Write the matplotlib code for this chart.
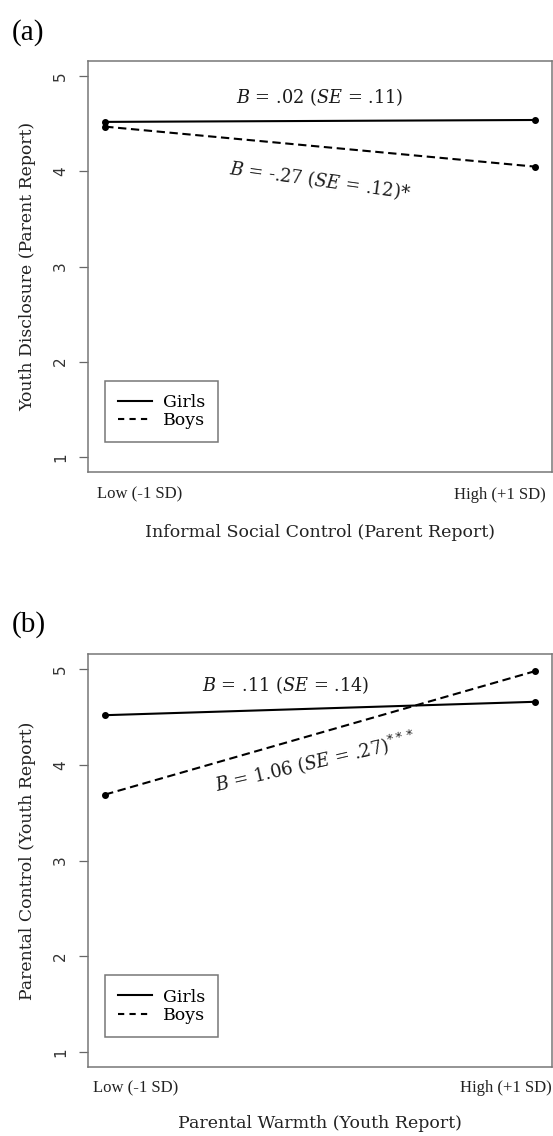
import matplotlib
matplotlib.use("Agg")
import matplotlib.pyplot as plt
from matplotlib.lines import Line2D

plt.rcParams['mathtext.fontset'] = 'dejavuserif'

x_pos = [0, 1]
x_labels = ["Low (-1 SD)", "High (+1 SD)"]

a_girls = [4.52, 4.54]
a_boys = [4.47, 4.05]
b_girls = [4.52, 4.66]
b_boys = [3.69, 4.98]

yticks = [1, 2, 3, 4, 5]

W, H = 553, 1136
fig = plt.figure(figsize=(W / 100, H / 100), dpi=100)

def px_axes(l, t, r, b):
    return fig.add_axes([l / W, 1 - b / H, (r - l) / W, (b - t) / H])

serif = 'DejaVu Serif'
DASH = (0, (4, 2.2))

def setup(ax, girls, boys, xlabel, lowfrac, highfrac, ticky, titley):
    ax.plot(x_pos, girls, color='black', lw=1.5, marker='o', ms=4)
    ax.plot(x_pos, boys, color='black', lw=1.5, ls=DASH, marker='o', ms=4)
    ax.set_xlim(-0.04, 1.04)
    ax.set_ylim(0.84, 5.16)
    ax.set_yticks(yticks)
    ax.set_yticklabels([str(v) for v in yticks], rotation=90, va='center',
                       fontsize=11, color='#333333')
    ax.tick_params(axis='y', length=6.5, width=0.9, color='#666666', pad=8)
    ax.set_xticks([])
    for s in ax.spines.values():
        s.set_color('#777777')
        s.set_linewidth(1.1)
    ax.text(lowfrac, ticky, x_labels[0], transform=ax.transAxes, ha='center',
            va='center', fontsize=12, family='Liberation Serif', color='#222222',
            clip_on=False)
    ax.text(highfrac, ticky, x_labels[1], transform=ax.transAxes, ha='center',
            va='center', fontsize=12, family='Liberation Serif', color='#222222',
            clip_on=False)
    ax.text(0.5, titley, xlabel, transform=ax.transAxes, ha='center', va='center',
            fontsize=12.5, family=serif, color='#222222')
    handles = [Line2D([], [], color='black', lw=1.5),
               Line2D([], [], color='black', lw=1.5, ls=(0, (3, 2.5)))]
    leg = ax.legend(handles, ['Girls', 'Boys'], loc='lower left',
                    bbox_to_anchor=(0.0366, 0.072), borderaxespad=0,
                    frameon=True, fancybox=False,
                    edgecolor='#555555', handlelength=1.95, borderpad=0.75,
                    prop={'family': serif, 'size': 12.5},
                    labelspacing=0.1, handletextpad=0.65)
    leg.get_frame().set_linewidth(1.1)

ann_kw = dict(ha='center', va='center', fontsize=12.8, family=serif,
              color='#1a1a1a')

# Panel (a)
ax1 = px_axes(88, 61, 552, 472)
setup(ax1, a_girls, a_boys, 'Informal Social Control (Parent Report)',
      0.111, 0.888, -0.055, -0.147)
fig.text(28 / W, 1 - 266 / H, 'Youth Disclosure (Parent Report)', rotation=90,
         ha='center', va='center', fontsize=12.4, family=serif, color='#222222')
ax1.text(0.5, 4.78, r'$B$ = .02 ($SE$ = .11)', **ann_kw)
ax1.text(0.50, 3.90, r'$B$ = -.27 ($SE$ = .12)*', rotation=-7.8, **ann_kw)
fig.text(12 / W, 1 - 33 / H, '(a)', fontsize=21, family='Liberation Serif',
         va='center', ha='left')

# Panel (b)
ax2 = px_axes(88, 654, 552, 1067)
setup(ax2, b_girls, b_boys, 'Parental Warmth (Youth Report)',
      0.103, 0.90, -0.051, -0.136)
fig.text(28 / W, 1 - 861 / H, 'Parental Control (Youth Report)', rotation=90,
         ha='center', va='center', fontsize=12.4, family=serif, color='#222222')
ax2.text(0.42, 4.84, r'$B$ = .11 ($SE$ = .14)', **ann_kw)
ax2.text(0.49, 4.03, r'$B$ = 1.06 ($SE$ = .27)$^{***}$', rotation=13, **ann_kw)
fig.text(12 / W, 1 - 625 / H, '(b)', fontsize=21, family='Liberation Serif',
         va='center', ha='left')

fig.savefig('out.png', dpi=100)
